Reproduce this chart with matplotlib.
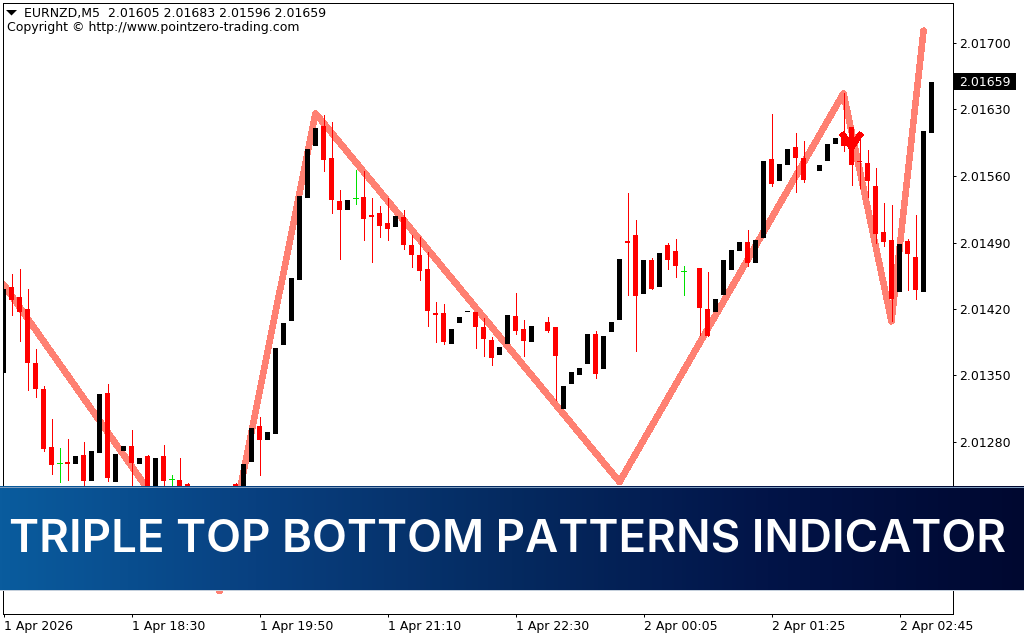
import matplotlib
matplotlib.use("Agg")
import matplotlib.pyplot as plt
import numpy as np

# prices are stored in points above 2.0 (2.01441 -> 1441)
N = None
opens = [1353, 1443, 1433, 1420, 1363, 1336, 1275, 1258, 1259, 1257,
         1266, 1239, 1268, 1332, 1238, 1270, 1276, 1257, 1265, 1219,
         1265, 1241, 1240, 1236, N, N, N, N, N, 1236,
         1219, 1259, 1297, 1282, 1288, 1382, 1407, 1451, 1537, 1592,
         1613, 1579, 1534, 1524, 1537, 1538, 1519, 1521, 1511, 1506,
         1517, 1487, 1477, 1462, 1416, 1416, 1383, 1405, 1417, 1417,
         1401, 1387, 1372, 1383, 1413, 1399, 1385, N, 1406, 1401,
         1315, 1341, 1351, 1362, 1394, 1357, 1396, 1408, 1492, 1498,
         1436, 1472, 1443, 1487, 1481, 1460, N, 1463, 1420, 1417,
         1435, 1461, 1481, 1490, 1468, 1495, 1578, 1555, 1572, 1591,
         1579, N, 1565, 1576, 1594, 1601, 1612, 1576, 1574, 1550,
         1501, 1493, 1438, 1492, 1475, 1438, 1605]
closes = [1441, 1430, 1417, 1363, 1336, 1273, 1256, 1258, 1257, 1265,
          1239, 1270, 1330, 1242, 1267, 1276, 1258, 1263, 1224, 1263,
          1239, 1241, 1219, 1208, N, N, N, N, N, 1219,
          1257, 1295, 1282, 1290, 1379, 1405, 1453, 1539, 1588, 1610,
          1577, 1535, 1524, 1535, 1537, 1515, 1517, 1507, 1504, 1518,
          1487, 1477, 1460, 1418, 1414, 1385, 1399, 1412, 1418, 1401,
          1388, 1368, 1380, 1414, 1397, 1386, 1402, N, 1397, 1370,
          1339, 1354, 1358, 1394, 1352, 1392, 1406, 1473, 1490, 1434,
          1472, 1441, 1479, 1472, 1465, 1460, N, 1421, 1392, 1431,
          1472, 1482, 1490, 1468, 1493, 1576, 1552, 1573, 1588, 1579,
          1556, N, 1572, 1594, 1600, 1592, 1572, 1575, 1555, 1499,
          1491, 1431, 1488, 1478, 1440, 1607, 1659]
highs = [1441, 1457, 1462, 1441, 1378, 1339, 1304, 1274, 1283, 1265,
         1280, 1270, 1330, 1341, 1267, 1276, 1293, 1263, 1266, 1263,
         1277, 1245, 1263, 1237, N, N, N, N, N, 1237,
         1257, 1295, 1306, 1290, 1379, 1405, 1453, 1539, 1588, 1610,
         1624, 1617, 1545, 1535, 1566, 1565, 1537, 1528, 1537, 1518,
         1524, 1498, 1496, 1480, 1427, 1425, 1399, 1412, 1418, 1417,
         1411, 1391, 1380, 1414, 1437, 1408, 1402, N, 1412, 1401,
         1339, 1354, 1358, 1394, 1397, 1392, 1406, 1473, 1542, 1514,
         1472, 1474, 1479, 1490, 1494, 1465, N, 1463, 1459, 1431,
         1472, 1482, 1490, 1503, 1493, 1576, 1625, 1573, 1588, 1605,
         1597, N, 1572, 1594, 1600, 1647, 1612, 1598, 1587, 1568,
         1532, 1530, 1488, 1494, 1519, 1607, 1683]
lows = [1353, 1414, 1386, 1335, 1327, 1271, 1246, 1238, 1240, 1257,
        1230, 1239, 1268, 1239, 1238, 1270, 1224, 1257, 1219, 1219,
        1224, 1224, 1214, 1198, N, N, N, N, N, 1214,
        1219, 1259, 1245, 1282, 1288, 1382, 1407, 1451, 1537, 1592,
        1565, 1521, 1473, 1524, 1531, 1493, 1470, 1496, 1493, 1506,
        1483, 1464, 1451, 1402, 1385, 1383, 1383, 1405, 1417, 1379,
        1370, 1361, 1372, 1383, 1394, 1370, 1385, N, 1396, 1324,
        1315, 1341, 1351, 1362, 1347, 1357, 1396, 1408, 1435, 1376,
        1436, 1441, 1443, 1462, 1454, 1435, N, 1393, 1392, 1417,
        1435, 1461, 1481, 1465, 1468, 1495, 1550, 1555, 1572, 1543,
        1554, N, 1565, 1576, 1594, 1586, 1551, 1547, 1538, 1490,
        1486, 1407, 1438, 1440, 1431, 1438, 1596]

zigzag_idx = [0, 27, 39, 77, 105, 111, 115]
zigzag_price = [1446, 1123, 1626, 1238, 1647, 1407, 1713]
arrow_idx = 106
arrow_price = 1590

y_ticks = [1700, 1630, 1560, 1490, 1420, 1350, 1280, 1210, 1140]
x_ticks = [0, 16, 32, 48, 64, 80, 96, 112]
x_labels = ['1 Apr 2026', '1 Apr 18:30', '1 Apr 19:50', '1 Apr 21:10',
            '1 Apr 22:30', '2 Apr 00:05', '2 Apr 01:25', '2 Apr 02:45']
last_price = 1659
header = 'EURNZD,M5  2.01605 2.01683 2.01596 2.01659'
copyright_text = 'Copyright \u00a9 http://www.pointzero-trading.com'
title = 'TRIPLE TOP BOTTOM PATTERNS INDICATOR'


def to_price(points):
    return 2.0 + np.array(points, dtype=float) / 1e5


W, H = 1024, 640
plt.rcParams['font.family'] = ['DejaVu Sans']
fig = plt.figure(figsize=(W / 100, H / 100), dpi=100)
px = 0.72  # one pixel in points
label_size = 9

left, right, top, bottom = 2.5, 952.5, 2.5, 613.5
ax = fig.add_axes([left / W, 1 - bottom / H, (right - left) / W, (bottom - top) / H])
ax.set_xlim((left - 3.5) / 8, (right - 3.5) / 8)
ax.set_ylim(2.0 + (1700 - (bottom - 43) / 0.95) / 1e5, 2.0 + (1700 + (43 - top) / 0.95) / 1e5)
for side in ax.spines.values():
    side.set_linewidth(px)
    side.set_color('black')

o, c, h, l = to_price(opens), to_price(closes), to_price(highs), to_price(lows)
xs = np.arange(len(o))

ax.plot(zigzag_idx, to_price(zigzag_price), color='#FF8072', lw=5.5 * px, antialiased=False,
        solid_capstyle='round', solid_joinstyle='round', zorder=2)

up = c > o
down = c < o
doji = c == o
# bull candles show no wick on this chart, only the body
ax.vlines(xs[down], l[down], h[down], color='#FF0000', lw=px, antialiased=False, zorder=3)
ax.vlines(xs[doji], l[doji], h[doji], color='#00E000', lw=px, antialiased=False, zorder=3)
ax.hlines(c[doji], xs[doji] - 0.31, xs[doji] + 0.31, color='#00E000', lw=px, antialiased=False, zorder=3)
ax.bar(xs[down], (o - c)[down], bottom=c[down], width=4.6 / 8, color='#FF0000', linewidth=0, antialiased=False, zorder=3)
ax.bar(xs[up], (c - o)[up], bottom=o[up], width=4.6 / 8, color='black', linewidth=0, antialiased=False, zorder=3)

# sell arrow
ax.plot([arrow_idx - 1.05, arrow_idx, arrow_idx + 1.05],
        to_price([arrow_price + 13, arrow_price, arrow_price + 13]),
        color='#FF0000', lw=5 * px, antialiased=False, solid_joinstyle='miter', zorder=4)

ax.yaxis.tick_right()
ax.set_yticks(to_price(y_ticks))
ax.set_yticklabels(['%.5f' % v for v in to_price(y_ticks)])
ax.set_xticks(x_ticks)
ax.set_xticklabels(x_labels, ha='left')
ax.tick_params(axis='y', length=2.2, width=px, pad=2.5, labelsize=label_size, colors='black')
ax.tick_params(axis='x', length=2.2, width=px, pad=2.5, labelsize=label_size, colors='black')

# current price tag on the scale
fig.add_artist(plt.Rectangle((954 / W, 1 - 90 / H), 62 / W, 17 / H, color='black', linewidth=0,
                             transform=fig.transFigure))
fig.text(959 / W, 1 - 82 / H, '%.5f' % to_price(last_price), color='white', fontsize=label_size,
         va='center', ha='left')

# header triangle and the two corner labels
fig.add_artist(plt.Polygon([[6 / W, 1 - 10 / H], [17 / W, 1 - 10 / H], [11.5 / W, 1 - 15.5 / H]],
                           closed=True, color='black', linewidth=0, transform=fig.transFigure))
fig.text(24.5 / W, 1 - 14 / H, header, fontsize=label_size, va='center', ha='left')
fig.text(7 / W, 1 - 27 / H, copyright_text, fontsize=label_size, va='center', ha='left')

# banner across the whole width, left to right gradient
banner = fig.add_axes([0, 1 - 590.5 / H, 1, (590.5 - 486) / H], zorder=10)
banner.set_axis_off()
stops = np.array([[0x0A, 0x5C, 0x9E], [0x08, 0x40, 0x80], [0x05, 0x2A, 0x60], [0x02, 0x14, 0x48], [0x00, 0x08, 0x30]]) / 255
grad = np.stack([np.interp(np.linspace(0, 1, 512), np.linspace(0, 1, 5), stops[:, k]) for k in range(3)], axis=-1)
banner.imshow(grad[np.newaxis, :, :], aspect='auto', extent=(0, 1, 0, 1))
banner.plot([0, 1], [0.995, 0.995], color='#7F9CBD', lw=px, transform=banner.transAxes)
banner.plot([0, 1], [0.005, 0.005], color='#C5D0DC', lw=px, transform=banner.transAxes)
banner.set_xlim(0, 1)
banner.set_ylim(0, 1)
banner.text(508 / W, 0.49, title, color='white', fontsize=32.8, fontweight='semibold', family='Inter',
            ha='center', va='center', transform=banner.transAxes)

fig.savefig('out.png', dpi=100)
